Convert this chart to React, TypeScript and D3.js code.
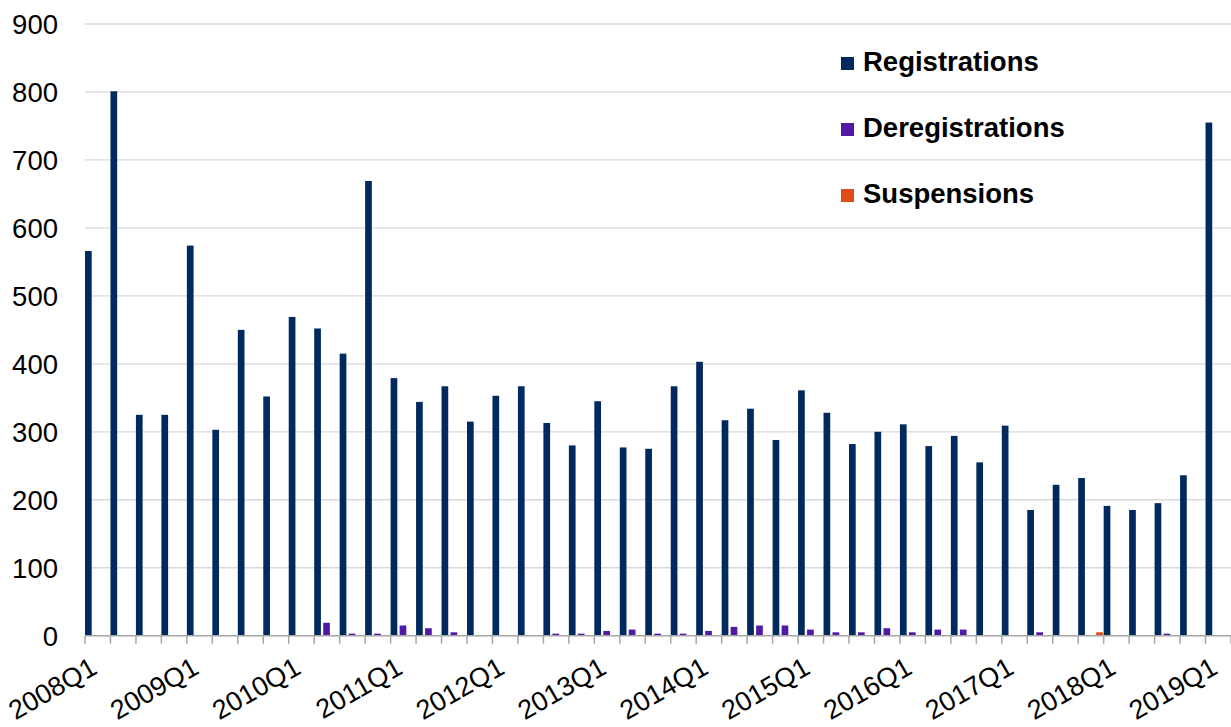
import React from "react";
import * as d3 from "d3";

const quarters = [
  "2008Q1", "2008Q2", "2008Q3", "2008Q4",
  "2009Q1", "2009Q2", "2009Q3", "2009Q4",
  "2010Q1", "2010Q2", "2010Q3", "2010Q4",
  "2011Q1", "2011Q2", "2011Q3", "2011Q4",
  "2012Q1", "2012Q2", "2012Q3", "2012Q4",
  "2013Q1", "2013Q2", "2013Q3", "2013Q4",
  "2014Q1", "2014Q2", "2014Q3", "2014Q4",
  "2015Q1", "2015Q2", "2015Q3", "2015Q4",
  "2016Q1", "2016Q2", "2016Q3", "2016Q4",
  "2017Q1", "2017Q2", "2017Q3", "2017Q4",
  "2018Q1", "2018Q2", "2018Q3", "2018Q4",
  "2019Q1",
];

const registrations = [
  566, 801, 325, 325, 574, 303, 450, 352, 469, 452, 415, 669,
  379, 344, 367, 315, 353, 367, 313, 280, 345, 277, 275, 367,
  403, 317, 334, 288, 361, 328, 282, 300, 311, 279, 294, 255,
  309, 185, 222, 232, 191, 185, 195, 236, 755,
];

const deregistrations = [
  0, 0, 0, 0, 0, 0, 0, 0, 1, 19, 3, 3,
  15, 11, 5, 0, 1, 0, 3, 3, 7, 9, 3, 3,
  7, 13, 15, 15, 9, 5, 5, 11, 5, 9, 9, 0,
  1, 5, 1, 1, 1, 1, 3, 0, 0,
];

const suspensions = [
  0, 0, 0, 0, 0, 0, 0, 0, 0, 0, 1, 0,
  0, 1, 0, 0, 1, 1, 0, 1, 1, 1, 0, 1,
  0, 1, 0, 1, 1, 0, 1, 1, 0, 1, 0, 0,
  1, 0, 0, 5, 0, 0, 0, 1, 0,
];

const seriesNames = ["Registrations", "Deregistrations", "Suspensions"];
const seriesValues = [registrations, deregistrations, suspensions];
const seriesColors = ["#002a5e", "#5019a8", "#e04e17"];

const yTicks = [0, 100, 200, 300, 400, 500, 600, 700, 800, 900];
const xTickLabels = [
  "2008Q1", "2009Q1", "2010Q1", "2011Q1", "2012Q1", "2013Q1",
  "2014Q1", "2015Q1", "2016Q1", "2017Q1", "2018Q1", "2019Q1",
];

const width = 1231;
const height = 727;
const font = "'Liberation Sans', Arial, sans-serif";

export default function App() {
  const x = d3.scaleBand<string>().domain(quarters).range([85, 1231]).padding(0);
  const xs = d3.scaleBand<string>().domain(seriesNames).range([0, 24.7]).paddingInner(0.256);
  const y = d3.scaleLinear().domain([0, 900]).range([635.7, 24]);

  const y0 = y(0);
  const bw = x.bandwidth();
  const tickXs = quarters.map((q) => x(q) as number).concat([(x(quarters[quarters.length - 1]) as number) + bw]);

  return (
    <svg
      width={width}
      height={height}
      style={{ position: "fixed", left: 0, top: 0, background: "#fff" }}
      fontFamily={font}
    >
      {/* grid */}
      {yTicks.filter((t) => t > 0).map((t) => (
        <line key={t} x1={85} x2={width} y1={y(t)} y2={y(t)} stroke="#d9d9d9" strokeWidth={1.3} />
      ))}
      {yTicks.map((t) => (
        <text key={"yl" + t} x={58} y={y(t)} dy="0.36em" textAnchor="end" fontSize={27.5} fill="#000">
          {t}
        </text>
      ))}

      {/* bars */}
      {seriesNames.map((s, si) => (
        <g key={s} fill={seriesColors[si]}>
          {quarters.map((q, i) => {
            const v = seriesValues[si][i];
            if (!v) return null;
            return (
              <rect
                key={q}
                x={(x(q) as number) + (xs(s) as number)}
                y={y(v)}
                width={xs.bandwidth()}
                height={y0 - y(v)}
              />
            );
          })}
        </g>
      ))}

      {/* x axis */}
      <line x1={85} x2={width} y1={y0} y2={y0} stroke="#a6a6a6" strokeWidth={1.5} />
      {tickXs.map((tx, i) => (
        <line key={"t" + i} x1={tx} x2={tx} y1={y0} y2={y0 + 8} stroke="#a6a6a6" strokeWidth={1.5} />
      ))}
      {xTickLabels.map((lab) => {
        const cx = (x(lab) as number) + bw / 2 + 1;
        const cy = 672.5;
        return (
          <text
            key={lab}
            x={cx}
            y={cy}
            textAnchor="end"
            fontSize={27}
            fill="#000"
            transform={`rotate(-30, ${cx}, ${cy})`}
          >
            {lab}
          </text>
        );
      })}

      {/* legend */}
      {seriesNames.map((s, i) => {
        const by = 71 + i * 66;
        return (
          <g key={"lg" + s}>
            <rect x={841} y={by - 14} width={13} height={13} fill={seriesColors[i]} />
            <text x={863} y={by} fontSize={27.5} fontWeight="bold" fill="#000">
              {s}
            </text>
          </g>
        );
      })}
    </svg>
  );
}
